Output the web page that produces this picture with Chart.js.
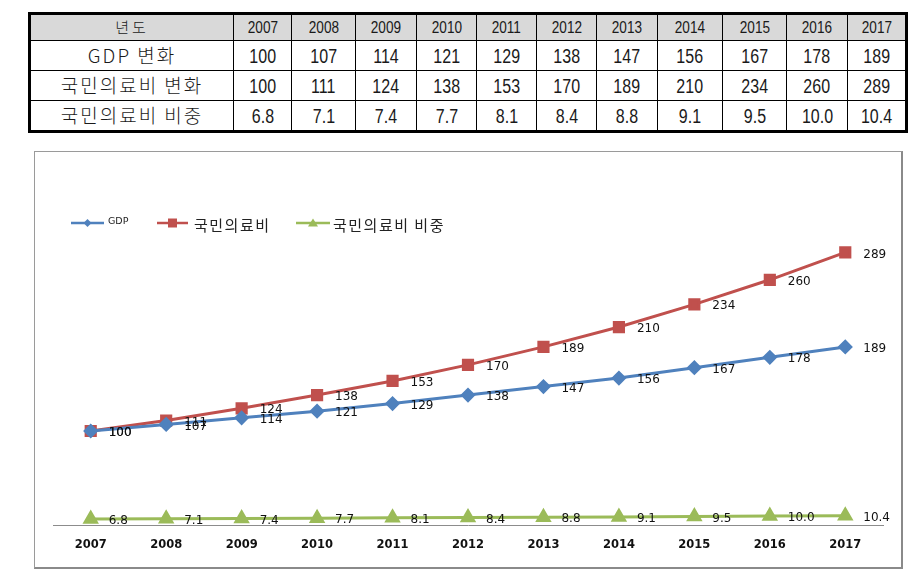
<!DOCTYPE html>
<html><head><meta charset="utf-8">
<script src="https://cdn.jsdelivr.net/npm/chart.js@4.4.1/dist/chart.umd.min.js"></script>
<style>
html,body{margin:0;padding:0;background:#fff;width:916px;height:580px;overflow:hidden;}
#tbl{position:absolute;left:28px;top:12px;border-collapse:collapse;border:3px solid #000;
 font-family:"Liberation Sans","Noto Sans CJK KR",sans-serif;font-size:20px;color:#1a1a1a;table-layout:fixed;}
#tbl td{border:1px solid #000;text-align:center;padding:0;height:29px;line-height:28px;white-space:nowrap;overflow:hidden;}
#tbl tr.h td{background:#d9d9d9;height:24px;line-height:24px;font-size:17px;}
#tbl .n{display:inline-block;transform:scaleX(0.8);}
#tbl .k{font-family:"Noto Sans CJK KR",sans-serif;font-size:19px;letter-spacing:2px;font-weight:300;}
#tbl tr.h .k{font-size:15px;letter-spacing:3px;}
#box{position:absolute;left:34px;top:151px;width:866px;height:415px;border:1px solid #9a9a9a;border-right:2px solid #8a8a8a;border-bottom:2px solid #8a8a8a;}
#c{position:absolute;left:0;top:0;}
</style></head><body>
<table id="tbl"></table>
<div id="box"><canvas id="c" width="866" height="415"></canvas></div>
<script>
const years = ["2007","2008","2009","2010","2011","2012","2013","2014","2015","2016","2017"];
const gdp = [100,107,114,121,129,138,147,156,167,178,189];
const medical = [100,111,124,138,153,170,189,210,234,260,289];
const medicalShare = [6.8,7.1,7.4,7.7,8.1,8.4,8.8,9.1,9.5,10.0,10.4];
const shareLabels = ["6.8","7.1","7.4","7.7","8.1","8.4","8.8","9.1","9.5","10.0","10.4"];
const rowNames = ["년도","GDP 변화","국민의료비 변화","국민의료비 비중"];
const seriesNames = ["GDP","국민의료비","국민의료비 비중"];

// table
const colW = [204,58,64,61,60,60,60,61,65,64,61,59];
const tbl = document.getElementById('tbl');
const n = v => '<td><span class="n">'+v+'</span></td>';
const k = v => '<td><span class="k">'+v+'</span></td>';
let cg = '<colgroup>' + colW.map(w=>'<col style="width:'+w+'px">').join('') + '</colgroup>';
let html = cg + '<tr class="h">'+k(rowNames[0]) + years.map(n).join('') + '</tr>';
html += '<tr>'+k(rowNames[1]) + gdp.map(n).join('') + '</tr>';
html += '<tr>'+k(rowNames[2]) + medical.map(n).join('') + '</tr>';
html += '<tr>'+k(rowNames[3]) + shareLabels.map(n).join('') + '</tr>';
tbl.innerHTML = html;

const colors = ['#4F81BD','#C0504D','#9BBB59'];

const labelPlugin = {
  id:'labels',
  afterDatasetsDraw(chart){
    const ctx = chart.ctx;
    ctx.save();
    ctx.font = '12px "DejaVu Sans", sans-serif';
    ctx.fillStyle = '#111';
    ctx.textAlign = 'left';
    ctx.textBaseline = 'middle';
    chart.data.datasets.forEach((ds,i)=>{
      const meta = chart.getDatasetMeta(i);
      meta.data.forEach((pt,j)=>{
        const txt = i===2 ? shareLabels[j] : String(ds.data[j]);
        ctx.fillText(txt, pt.x + 18, pt.y + 2);
      });
    });
    ctx.restore();
  }
};

const legendPlugin = {
  id:'customLegend',
  afterDraw(chart){
    const ctx = chart.ctx;
    ctx.save();
    const y = 71;
    const items = [
      {x1:36,x2:69,tx:73,font:'9.5px "DejaVu Sans", sans-serif',shape:'diamond',ls:'0px'},
      {x1:122,x2:153,tx:159,font:'15px "Noto Sans CJK KR", sans-serif',shape:'square',ls:'1.5px'},
      {x1:261,x2:295,tx:298,font:'15px "Noto Sans CJK KR", sans-serif',shape:'triangle',ls:'1.5px'}
    ];
    items.forEach((it,i)=>{
      ctx.strokeStyle = colors[i]; ctx.fillStyle = colors[i]; ctx.lineWidth = 2.5;
      ctx.beginPath(); ctx.moveTo(it.x1,y); ctx.lineTo(it.x2,y); ctx.stroke();
      const cx = (it.x1+it.x2)/2;
      ctx.beginPath();
      if(it.shape==='diamond'){ctx.moveTo(cx,y-4);ctx.lineTo(cx+4,y);ctx.lineTo(cx,y+4);ctx.lineTo(cx-4,y);ctx.closePath();}
      else if(it.shape==='square'){ctx.rect(cx-4.5,y-4.5,9,9);}
      else {ctx.moveTo(cx,y-4.5);ctx.lineTo(cx+5,y+3.5);ctx.lineTo(cx-5,y+3.5);ctx.closePath();}
      ctx.fill();
      ctx.fillStyle = '#222'; ctx.font = it.font; ctx.textBaseline='middle'; ctx.textAlign='left';
      ctx.letterSpacing = it.ls;
      ctx.fillText(seriesNames[i], it.tx, y + (i===0?-1:2));
    });
    ctx.restore();
  }
};

new Chart(document.getElementById('c'), {
  type:'line',
  data:{
    labels: years,
    datasets:[
      {label:seriesNames[0], data:gdp, borderColor:colors[0], backgroundColor:colors[0], borderWidth:3, pointStyle:'rectRot', pointRadius:5.5, pointHoverRadius:5.5, tension:0},
      {label:seriesNames[1], data:medical, borderColor:colors[1], backgroundColor:colors[1], borderWidth:3, pointStyle:'rect', pointRadius:6.5, pointHoverRadius:6.5, tension:0},
      {label:seriesNames[2], data:medicalShare, borderColor:colors[2], backgroundColor:colors[2], borderWidth:3, pointStyle:'triangle', pointRadius:6.5, pointHoverRadius:6.5, tension:0}
    ]
  },
  options:{
    responsive:false, animation:false, devicePixelRatio:1,
    layout:{padding:{left:18,right:18,top:90,bottom:0}},
    plugins:{legend:{display:false}, tooltip:{enabled:false}},
    scales:{
      x:{
        offset:true,
        grid:{display:false, drawTicks:false},
        border:{display:true, color:'#8c8c8c', width:1},
        ticks:{color:'#111', font:{family:'"DejaVu Sans", sans-serif', size:11.5, weight:'bold'}, padding:13, maxRotation:0},
        afterFit(s){ s.height = 41.5; }
      },
      y:{display:false, min:0, max:300}
    }
  },
  plugins:[labelPlugin, legendPlugin]
});
</script>
</body></html>
